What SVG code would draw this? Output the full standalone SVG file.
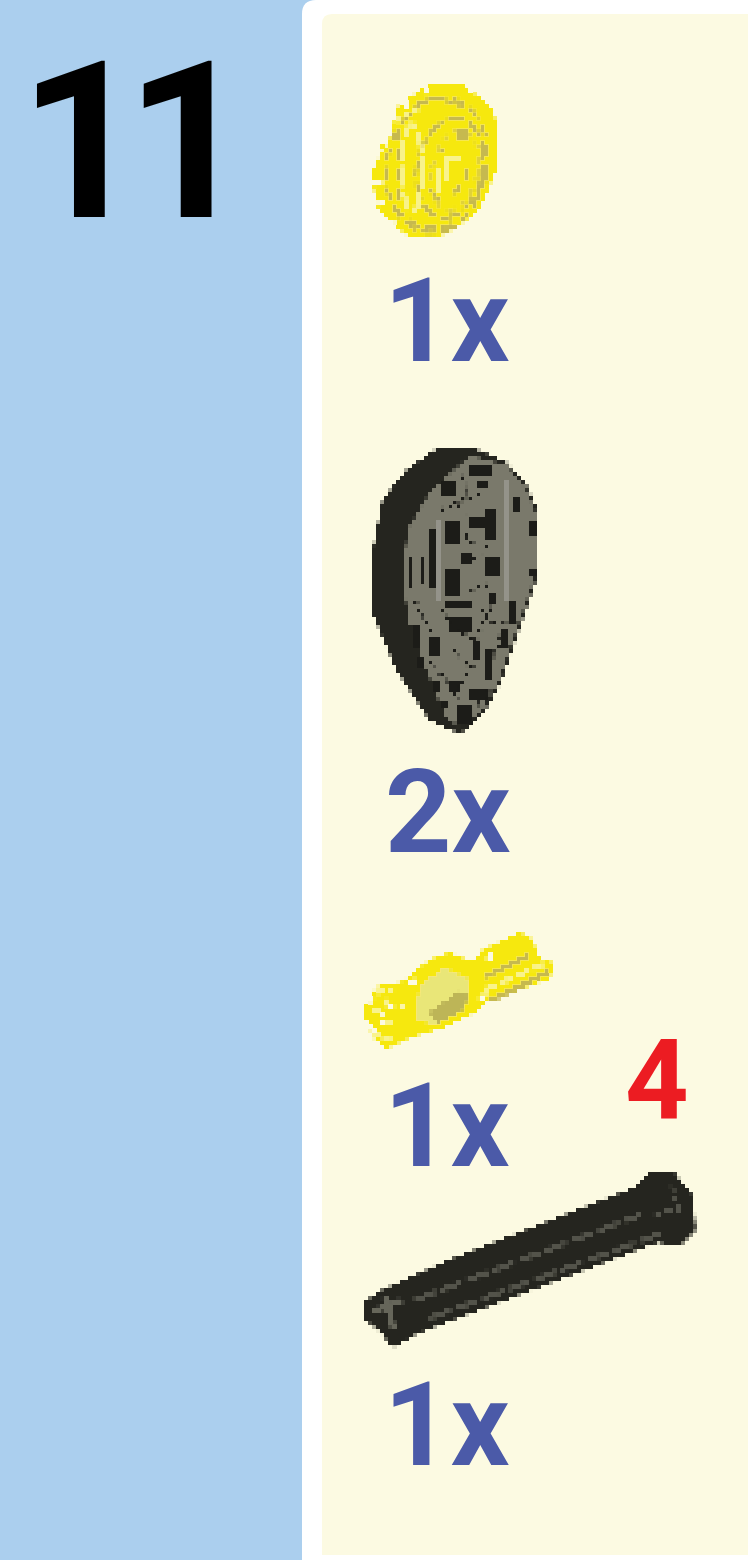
<svg xmlns="http://www.w3.org/2000/svg" width="748" height="1560" viewBox="0 0 748 1560">
<style>
text{font-family:Roboto,"Liberation Sans",sans-serif;font-weight:700;filter:url(#soft)}
.qty{font-size:116px;fill:#4B5AA8}
.d{fill:none;stroke-linecap:butt}
</style>
<defs>
<filter id="soft" x="-10%" y="-10%" width="120%" height="120%"><feGaussianBlur stdDeviation="0.6"/></filter>
<filter id="px" filterUnits="userSpaceOnUse" x="340" y="60" width="380" height="1310" color-interpolation-filters="sRGB">
<feFlood x="342" y="62" width="1" height="1" flood-color="#000"/>
<feComposite x="340" y="60" width="4" height="4"/>
<feTile x="340" y="60" width="380" height="1310" result="grid"/>
<feComposite in="SourceGraphic" in2="grid" operator="in"/>
<feMorphology operator="dilate" radius="2"/>
<feGaussianBlur stdDeviation="0.55"/>
</filter>
</defs>
<rect width="748" height="1560" fill="#ABCFEE"/>
<path d="M302 1560V14Q302 0 316 0H748V1560Z" fill="#FFFFFF"/>
<path d="M322 1555V24Q322 14 332 14H748V1555Z" fill="#FCFAE2"/>
<text id="step" x="19" y="217" font-size="219" fill="#000" letter-spacing="-19">11</text>

<g id="part-gear" filter="url(#px)">
<path d="M430 85L463 85L490 107L498 127L497 167L480 207L457 227L437 237L410 237L390 220L377 207L372 173L383 150L378 140L388 148L398 107L417 93Z" fill="#F6E80E"/>
<path d="M372 185l10 -4M376 205l8 -3M388 225l6 -4M402 100l6 6M425 88l4 6M470 88l4 6" class="d" stroke="#FCFAE2" stroke-width="4"/>
<ellipse cx="437" cy="165" rx="50" ry="68" transform="rotate(12 437 165)" class="d" stroke="#C6B94F" stroke-width="4" stroke-dasharray="14 6"/>
<ellipse cx="450" cy="168" rx="33" ry="50" transform="rotate(12 450 168)" class="d" stroke="#C6B94F" stroke-width="4" stroke-dasharray="18 5"/>
<ellipse cx="455" cy="170" rx="23" ry="40" transform="rotate(12 455 170)" class="d" stroke="#E0D23A" stroke-width="4" stroke-dasharray="8 6"/>
<ellipse cx="412" cy="168" rx="10" ry="44" class="d" stroke="#F8F28A" stroke-width="4" stroke-dasharray="20 5"/>
<path d="M400 130V215" class="d" stroke="#C6B94F" stroke-width="4" stroke-dasharray="12 8"/>
<path d="M448 180V158H462M440 192V170" class="d" stroke="#F9F38C" stroke-width="4"/>
<rect x="456" y="130" width="12" height="12" fill="#C6B94F"/>
<path d="M440 150h4M465 170v12M460 186l-6 8M430 190l8 10" class="d" stroke="#C6B94F" stroke-width="4"/>
<path d="M395 122L420 108" class="d" stroke="#F8F28A" stroke-width="4" stroke-dasharray="6 4"/>
<path d="M415 105Q440 92 462 108" class="d" stroke="#C6B94F" stroke-width="4" stroke-dasharray="18 5"/>
<path d="M396 210L420 228L455 224" class="d" stroke="#C6B94F" stroke-width="4" stroke-dasharray="12 5"/>
</g>

<g id="part-wheel" filter="url(#px)">
<path d="M440 447L470 447L507 463L527 487L538 513L538 573L523 617L500 683L483 713L460 733L430 720L397 670L373 613L372 557L383 500L407 470Z" fill="#25251F"/>
<path d="M470 456L507 466L526 490L536 515L536 572L521 615L498 682L481 710L460 727L445 715L428 672L410 623L403 580L408 530L430 493Z" fill="#7A796B"/>
<g fill="#1C1C18">
<rect x="442" y="482" width="16" height="16"/><rect x="470" y="466" width="24" height="10"/><rect x="478" y="480" width="12" height="10"/>
<rect x="445" y="522" width="16" height="24"/><rect x="486" y="508" width="12" height="34"/><rect x="470" y="518" width="14" height="10"/>
<rect x="445" y="570" width="16" height="26"/><rect x="484" y="556" width="16" height="22"/><rect x="462" y="552" width="12" height="12"/>
<rect x="408" y="555" width="6" height="34"/><rect x="420" y="555" width="5" height="30"/><rect x="430" y="530" width="6" height="60"/>
<rect x="530" y="520" width="8" height="18"/><rect x="530" y="568" width="8" height="8"/><rect x="514" y="495" width="6" height="18"/>
<rect x="446" y="600" width="28" height="10"/><rect x="450" y="618" width="24" height="14"/><rect x="488" y="592" width="10" height="14"/>
<rect x="414" y="625" width="6" height="22"/><rect x="428" y="635" width="14" height="22"/><rect x="472" y="640" width="8" height="22"/>
<rect x="484" y="650" width="10" height="30"/><rect x="418" y="655" width="8" height="12"/><rect x="448" y="680" width="14" height="14"/>
<rect x="432" y="680" width="8" height="12"/><rect x="470" y="690" width="18" height="10"/><rect x="456" y="705" width="16" height="18"/>
<rect x="508" y="600" width="8" height="24"/><rect x="500" y="630" width="8" height="20"/><rect x="440" y="700" width="8" height="10"/>
</g>
<path d="M474 560L488 545M470 590l20 -6M452 500l20 20M480 610l14 14M452 650l22 18M462 475l8 30M465 535l12 12M440 610l30 30M415 600l20 40M430 660l30 40M470 665l-15 30M495 600l-20 40M490 690l-15 20M440 510l25 -10M462 500l20 -6M505 620l-12 40" class="d" stroke="#1C1C18" stroke-width="4" stroke-dasharray="4 4"/>
<path d="M437 520V600M505 480V600" class="d" stroke="#94938A" stroke-width="4"/>
</g>

<g id="part-pin" filter="url(#px)">
<path d="M365 1007L377 987L403 982L430 960L450 953L473 963L483 950L520 933L533 940L537 957L552 963L550 978L517 990L483 1003L473 1013L443 1027L410 1037L387 1048L373 1037L365 1020Z" fill="#F6E80E"/>
<path d="M420 985L445 968L470 980L465 1005L435 1024L415 1020Z" fill="#E9E678"/>
<path d="M428 1012L460 990L470 996L462 1012L438 1024Z" fill="#BDB557"/>
<path d="M484 977L530 955M490 1000L548 972" class="d" stroke="#C6B94F" stroke-width="5"/>
<path d="M484 990L544 964" class="d" stroke="#F9F38C" stroke-width="4" stroke-dasharray="14 4"/>
<path d="M372 1010h14M383 1022h14M385 1000l6 8M372 1032l20 8M378 992l16 -2" class="d" stroke="#F9F38C" stroke-width="5" stroke-dasharray="8 4"/>
<path d="M382 1025a14 16 0 0 1 24 -14" class="d" stroke="#FCFAE2" stroke-width="3" stroke-dasharray="5 5"/>
<path d="M368 1003l6 -8M366 1022l8 10M408 985l10 -6M480 1000l6 -6M488 960l4 -6" class="d" stroke="#FCFAE2" stroke-width="4"/>
</g>

<g id="part-axle" filter="url(#px)">
<path d="M365 1302L383 1290L450 1260L637 1187L650 1173L673 1172L693 1197L695 1230L680 1245L657 1242L417 1333L393 1347L382 1333L365 1318Z" fill="#25251F"/>
<path d="M415 1300L640 1215M430 1318L665 1232" class="d" stroke="#53534A" stroke-width="4" stroke-dasharray="22 6"/>
<path d="M372 1312L402 1300M385 1298L394 1330" class="d" stroke="#66665A" stroke-width="5"/>
<path d="M672 1185L680 1215M655 1215L685 1205" class="d" stroke="#53534A" stroke-width="3" stroke-dasharray="6 5"/>
</g>

<g id="labels">
<text class="qty" x="384" y="361">1x</text>
<text class="qty" x="385" y="852">2x</text>
<text class="qty" x="384" y="1166">1x</text>
<text class="qty" x="384" y="1465">1x</text>
<text x="625" y="1118" font-size="111" fill="#EC1C24">4</text>
</g>
</svg>
